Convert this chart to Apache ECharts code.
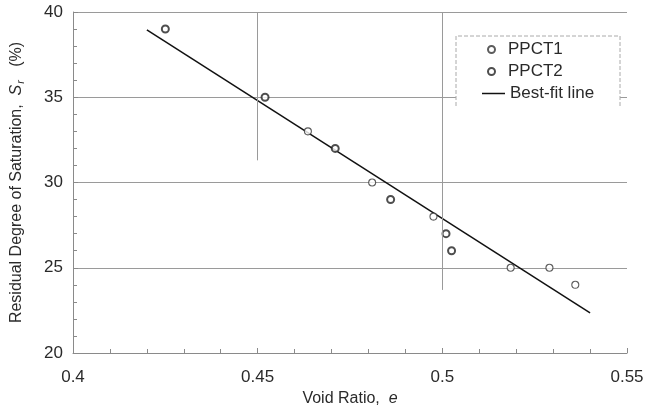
<!DOCTYPE html>
<html>
<head>
<meta charset="utf-8">
<script src="https://cdn.jsdelivr.net/npm/echarts@6/dist/echarts.min.js"></script>
<style>
  html, body { margin: 0; padding: 0; background: #fff; }
  #chart { width: 647px; height: 415px; }
</style>
</head>
<body>
<div id="chart"></div>
<script>
// Measured points: [void ratio e, residual degree of saturation Sr (%)]
const ppct1 = [[0.4636, 33], [0.481, 30], [0.4976, 28], [0.5185, 25], [0.529, 25], [0.536, 24]];
const ppct2 = [[0.425, 39], [0.452, 35], [0.471, 32], [0.486, 29], [0.501, 27], [0.5025, 26]];
// End points of the fitted straight line
const fitLine = [[0.42, 38.95], [0.54, 22.35]];
// Partial vertical reference lines: [e, Sr top, Sr bottom]
const refLines = [[0.45, 40, 31.3], [0.5, 40, 23.7]];

const FONT = 'Liberation Sans, Arial, Helvetica, sans-serif';
const TEXT = '#2a2a2a';
const GRIDC = '#9a9a9a';

const chart = echarts.init(document.getElementById('chart'), null, { renderer: 'canvas' });

chart.setOption({
  animation: false,
  backgroundColor: '#fff',
  textStyle: { fontFamily: FONT, color: TEXT },
  grid: { left: 73, right: 20, top: 12, bottom: 62 },
  xAxis: {
    type: 'value',
    min: 0.4, max: 0.55, interval: 0.05,
    name: 'Void Ratio,  {i|e}',
    nameLocation: 'middle',
    nameGap: 38,
    nameTextStyle: {
      fontFamily: FONT, fontSize: 16, color: TEXT,
      rich: { i: { fontFamily: FONT, fontSize: 16, fontStyle: 'italic', color: TEXT } }
    },
    axisLine: { lineStyle: { color: '#8a8a8a', width: 1 } },
    axisTick: { inside: true, length: 5, lineStyle: { color: '#8a8a8a' } },
    minorTick: { show: true, splitNumber: 5, length: 4, lineStyle: { color: '#8a8a8a' } },
    axisLabel: { fontFamily: FONT, fontSize: 17, color: TEXT, margin: 16 },
    splitLine: { show: false }
  },
  yAxis: {
    type: 'value',
    min: 20, max: 40, interval: 5,
    name: 'Residual Degree of Saturation,  {i|S}{sub|r}   (%)',
    nameLocation: 'middle',
    nameGap: 47,
    nameTextStyle: {
      fontFamily: FONT, fontSize: 16, color: TEXT,
      rich: {
        i: { fontFamily: FONT, fontSize: 16, fontStyle: 'italic', color: TEXT },
        sub: { fontFamily: FONT, fontSize: 11, fontStyle: 'italic', color: TEXT, padding: [8, 0, 0, 1] }
      }
    },
    axisLine: { show: true, lineStyle: { color: '#8a8a8a', width: 1 } },
    axisTick: { show: true, inside: true, length: 5, lineStyle: { color: '#8a8a8a' } },
    minorTick: { show: true, splitNumber: 5, length: 4, lineStyle: { color: '#8a8a8a' } },
    axisLabel: { fontFamily: FONT, fontSize: 17, color: TEXT, margin: 10 },
    splitLine: { show: true, lineStyle: { color: GRIDC, width: 1 } }
  },
  legend: [
    {
      data: ['PPCT1', 'PPCT2'],
      orient: 'vertical',
      left: 487, top: 41,
      itemWidth: 23, itemHeight: 7, itemGap: 5,
      padding: 0,
      z: 10,
      textStyle: { fontFamily: FONT, fontSize: 17, color: TEXT, lineHeight: 17 }
    },
    {
      data: [{ name: 'Best-fit line', icon: 'rect' }],
      orient: 'vertical',
      left: 482, top: 85,
      itemWidth: 23, itemHeight: 1.5, itemGap: 5,
      padding: 0,
      z: 10,
      itemStyle: { color: '#111' },
      textStyle: { fontFamily: FONT, fontSize: 17, color: TEXT, lineHeight: 17 }
    }
  ],
  graphic: [
    // White panel behind the legend, open-bottom frame around it
    {
      type: 'rect', z: 2,
      shape: { x: 456, y: 36, width: 164, height: 70 },
      style: { fill: '#fff' }
    },
    {
      type: 'polyline', z: 3,
      shape: { points: [[456, 106], [456, 36], [620, 36], [620, 106]] },
      style: { stroke: '#aaa', lineWidth: 1, fill: null, lineDash: [4, 2] }
    }
  ],
  series: [
    {
      name: 'PPCT1',
      type: 'scatter',
      data: ppct1,
      symbol: 'circle',
      symbolSize: 7,
      itemStyle: { color: '#fff', borderColor: '#333', borderWidth: 1.1 },
      z: 4
    },
    {
      name: 'PPCT2',
      type: 'scatter',
      data: ppct2,
      symbol: 'circle',
      symbolSize: 7,
      itemStyle: { color: '#fff', borderColor: '#222', borderWidth: 2 },
      z: 4
    },
    {
      name: 'Best-fit line',
      type: 'line',
      data: fitLine,
      symbol: 'none',
      showSymbol: false,
      lineStyle: { color: '#111', width: 1.5 },
      itemStyle: { color: '#111' },
      z: 3,
      markLine: {
        silent: true,
        symbol: 'none',
        label: { show: false },
        lineStyle: { color: GRIDC, width: 1, type: 'solid' },
        data: refLines.map(r => [{ coord: [r[0], r[1]] }, { coord: [r[0], r[2]] }])
      }
    }
  ]
});
</script>
</body>
</html>
